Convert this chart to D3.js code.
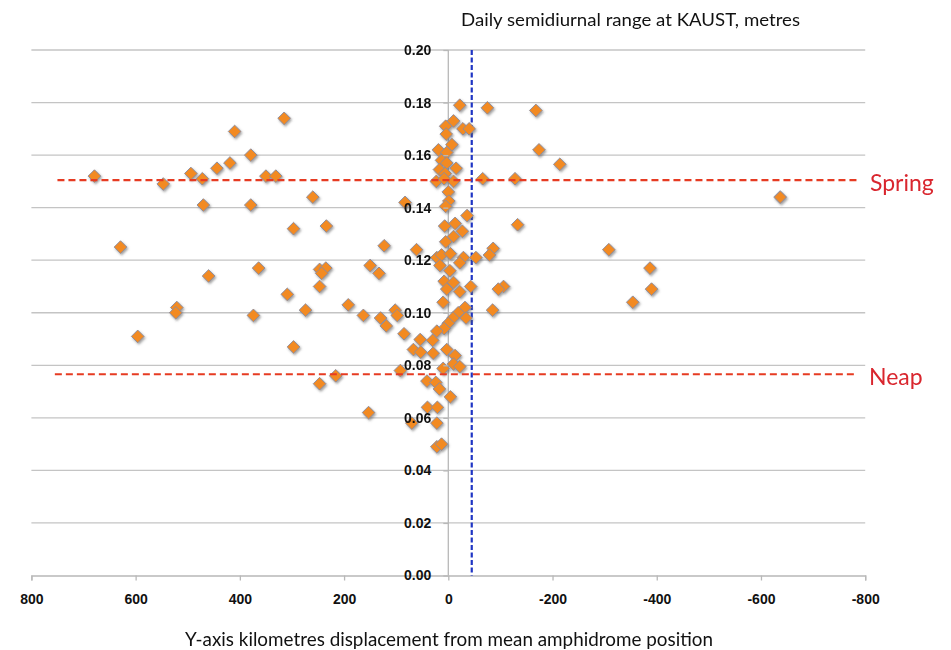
<!DOCTYPE html>
<html>
<head>
<meta charset="utf-8">
<script src="https://cdn.jsdelivr.net/npm/d3@7"></script>
<style>
  html, body { margin: 0; padding: 0; background: #fff; }
  svg { display: block; }
</style>
</head>
<body>
<svg id="chart" width="951" height="650"></svg>
<script>
// Y-axis displacement of the amphidrome (km) and daily semidiurnal range at KAUST (m)
const displacementKm = [
  679, 629, 596, 547, 521, 523, 494, 472, 470, 460, 444, 419, 410, 379, 379, 374,
  364, 350, 331, 315, 309, 297, 297, 274, 260, 247, 235, 243, 247, 247, 234, 216,
  192, 163, 153, 150, 133, 130, 119, 123, 102, 98, 85, 92, 83, 61, 70,
  -22, -10, 5, 4, -28, -40, -7, 19, 3, 13, 3, -15, 17, 6, 23, 8, -10, 0, -1, 5,
  -36, -13, 7, -27, -10, 5, 22, 13, 16, -4, -29, -22, -53, -3, 8, -10, 3, -22, -43,
  10, -32, -19, -34, -9, 0, 8, 22, 30, 54, 67, 53, 29, 3, -13, -10, -22, 10, 41,
  24, 17, -4, 40, 21, 22, 22, 13,
  -66, -75, -86, -79, -106, -96, -85, -128, -133, -168, -174, -214, -308, -387, -390, -354, -637
];
const rangeMetres = [
  0.152, 0.125, 0.091, 0.149, 0.102, 0.100, 0.153, 0.151, 0.141, 0.114, 0.155, 0.157, 0.169, 0.160, 0.141, 0.099,
  0.117, 0.152, 0.152, 0.174, 0.107, 0.132, 0.087, 0.101, 0.144, 0.1165, 0.117, 0.115, 0.110, 0.073, 0.133, 0.076,
  0.103, 0.099, 0.062, 0.118, 0.115, 0.098, 0.095, 0.1255, 0.101, 0.099, 0.092, 0.078, 0.142, 0.124, 0.058,
  0.179, 0.173, 0.171, 0.168, 0.170, 0.170, 0.164, 0.162, 0.161, 0.158, 0.157, 0.155, 0.1545, 0.153, 0.150, 0.151, 0.150, 0.146, 0.1425, 0.1405,
  0.137, 0.134, 0.133, 0.131, 0.129, 0.127, 0.121, 0.122, 0.118, 0.1225, 0.121, 0.119, 0.121, 0.116, 0.112, 0.1115, 0.109, 0.108, 0.110,
  0.104, 0.102, 0.100, 0.098, 0.098, 0.096, 0.094, 0.093, 0.0895, 0.0898, 0.086, 0.085, 0.0846, 0.086, 0.0837, 0.0805, 0.0795, 0.0788, 0.074,
  0.0735, 0.071, 0.068, 0.064, 0.064, 0.058, 0.049, 0.050,
  0.151, 0.178, 0.1245, 0.122, 0.110, 0.109, 0.101, 0.151, 0.1335, 0.177, 0.162, 0.1565, 0.124, 0.117, 0.109, 0.104, 0.144
];

const xTicks = [800, 600, 400, 200, 0, -200, -400, -600, -800];
const yTicks = [0, 0.02, 0.04, 0.06, 0.08, 0.10, 0.12, 0.14, 0.16, 0.18, 0.20];

// Reference levels
const springLevel = 0.1505;
const neapLevel = 0.0766;
const springSpan = [750, -785];
const neapSpan = [755, -780];
const meanOffsetKm = -45;

const titleText = "Daily semidiurnal range at KAUST, metres";
const xTitleText = "Y-axis kilometres displacement from mean amphidrome position";

const svg = d3.select("#chart");

const x = d3.scaleLinear().domain([800, -800]).range([31.4, 865.2]);
const y = d3.scaleLinear().domain([0, 0.2]).range([575.5, 50]);

const defs = svg.append("defs");
const shadow = defs.append("filter").attr("id", "markerShadow")
  .attr("x", "-50%").attr("y", "-50%").attr("width", "200%").attr("height", "200%");
shadow.append("feDropShadow").attr("dx", 1.2).attr("dy", 1.6)
  .attr("stdDeviation", 1.1).attr("flood-color", "#555").attr("flood-opacity", 0.55);

// Horizontal gridlines
svg.append("g")
  .selectAll("line")
  .data(yTicks.filter(d => d > 0))
  .join("line")
  .attr("x1", x(800)).attr("x2", x(-800))
  .attr("y1", d => y(d)).attr("y2", d => y(d))
  .attr("stroke", "#c4c4c4").attr("stroke-width", 1.3);

// Vertical axis line at zero displacement
svg.append("line")
  .attr("x1", x(0)).attr("x2", x(0))
  .attr("y1", y(0.2)).attr("y2", y(0))
  .attr("stroke", "#b8b8b8").attr("stroke-width", 1.3);

// X axis
const xAxis = svg.append("g")
  .attr("transform", `translate(0,${y(0)})`)
  .call(d3.axisBottom(x).tickValues(xTicks).tickSize(5).tickPadding(14).tickFormat(d3.format("d")));
xAxis.select(".domain").attr("stroke", "#b8b8b8").attr("stroke-width", 1.3);
xAxis.selectAll(".tick line").attr("stroke", "#b8b8b8").attr("stroke-width", 1.3);
xAxis.selectAll(".tick text")
  .attr("font-family", "'Liberation Sans', Arial, sans-serif")
  .attr("font-weight", "bold").attr("font-size", 14).attr("fill", "#111")
  .text(d => d3.format("d")(d).replace("−", "-"));

// Mean amphidrome position marker
svg.append("line")
  .attr("x1", x(meanOffsetKm)).attr("x2", x(meanOffsetKm))
  .attr("y1", y(0.2)).attr("y2", y(0))
  .attr("stroke", "#1f35c4").attr("stroke-width", 2.2)
  .attr("stroke-dasharray", "5,2.5");

// Data points
svg.append("g")
  .attr("filter", "url(#markerShadow)")
  .selectAll("path")
  .data(displacementKm.map((d, i) => [d, rangeMetres[i]]))
  .join("path")
  .attr("d", d3.symbol(d3.symbolSquare, 80))
  .attr("transform", d => `translate(${x(d[0])},${y(d[1])}) rotate(45)`)
  .attr("fill", "#f28a24")
  .attr("stroke", "#8c8c9c").attr("stroke-width", 0.9);

// Spring / neap reference lines
svg.append("line")
  .attr("x1", x(springSpan[0])).attr("x2", x(springSpan[1]))
  .attr("y1", y(springLevel)).attr("y2", y(springLevel))
  .attr("stroke", "#e63b22").attr("stroke-width", 2.2).attr("stroke-dasharray", "7,4");
svg.append("line")
  .attr("x1", x(neapSpan[0])).attr("x2", x(neapSpan[1]))
  .attr("y1", y(neapLevel)).attr("y2", y(neapLevel))
  .attr("stroke", "#e63b22").attr("stroke-width", 2.2).attr("stroke-dasharray", "7,4");

// Y axis tick labels, drawn over the markers
const yAxis = svg.append("g")
  .attr("transform", `translate(${x(0)},0)`)
  .call(d3.axisLeft(y).tickValues(yTicks).tickSize(5).tickPadding(12).tickFormat(d3.format(".2f")));
yAxis.select(".domain").remove();
yAxis.selectAll(".tick line").attr("stroke", "#b8b8b8").attr("stroke-width", 1.3);
yAxis.selectAll(".tick text")
  .attr("font-family", "'Liberation Sans', Arial, sans-serif")
  .attr("font-weight", "bold").attr("font-size", 14).attr("fill", "#111");

// Level labels
svg.append("text").attr("x", 870).attr("y", y(springLevel) + 11)
  .attr("font-family", "Lato, 'Open Sans', sans-serif").attr("font-size", 23)
  .attr("fill", "#d9262e").text("Spring");
svg.append("text").attr("x", 869).attr("y", y(neapLevel) + 11)
  .attr("font-family", "Lato, 'Open Sans', sans-serif").attr("font-size", 23)
  .attr("fill", "#d9262e").text("Neap");

// Titles
svg.append("text").attr("x", 461).attr("y", 26)
  .attr("font-family", "Lato, 'Open Sans', sans-serif").attr("font-size", 18)
  .attr("textLength", 339).attr("lengthAdjust", "spacingAndGlyphs")
  .attr("fill", "#111").text(titleText);
svg.append("text").attr("x", 449).attr("y", 646).attr("text-anchor", "middle")
  .attr("font-family", "Lato, 'Open Sans', sans-serif").attr("font-size", 18.5)
  .attr("textLength", 528).attr("lengthAdjust", "spacingAndGlyphs")
  .attr("fill", "#111").text(xTitleText);
</script>
</body>
</html>
